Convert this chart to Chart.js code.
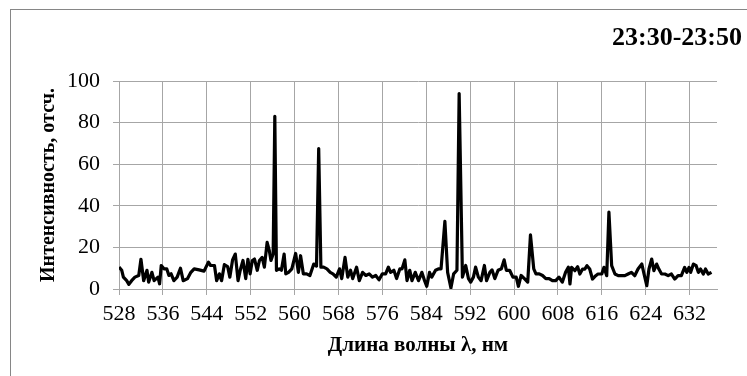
<!DOCTYPE html>
<html>
<head>
<meta charset="utf-8">
<script src="https://cdn.jsdelivr.net/npm/chart.js@4"></script>
<style>
  html, body { margin: 0; padding: 0; background: #fff; }
  #wrap { width: 747px; height: 376px; }
</style>
</head>
<body>
<div id="wrap"><canvas id="chart" width="747" height="376"></canvas></div>
<script>
const TITLE = "23:30-23:50";

const wavelength = [
  528.0, 528.5, 528.8, 529.4, 529.8, 530.3, 530.9, 531.6, 532.0, 532.5,
  533.1, 533.4, 534.0, 534.4, 535.1, 535.4, 535.7, 536.2, 536.7, 537.1,
  537.5, 538.0, 538.6, 539.2, 539.7, 540.5, 541.1, 541.7, 542.6, 543.5,
  544.3, 544.7, 545.4, 545.8, 546.3, 546.7, 547.2, 547.8, 548.2, 548.7,
  549.2, 549.7, 550.1, 550.6, 551.1, 551.5, 551.9, 552.3, 552.7, 553.2,
  553.6, 554.1, 554.5, 555.0, 555.4, 555.7, 556.1, 556.4, 556.7, 557.2,
  557.6, 558.1, 558.4, 558.9, 559.5, 560.2, 560.7, 561.1, 561.6, 562.2,
  562.8, 563.5, 564.0, 564.4, 564.8, 565.3, 565.9, 566.5, 567.0, 567.6,
  568.2, 568.6, 569.2, 569.7, 570.2, 570.6, 571.3, 571.8, 572.4, 573.0,
  573.6, 574.2, 574.8, 575.4, 576.0, 576.6, 577.1, 577.5, 578.1, 578.6,
  579.2, 579.6, 580.1, 580.5, 581.0, 581.4, 582.0, 582.6, 583.2, 583.7,
  584.1, 584.6, 585.0, 585.7, 586.3, 586.7, 587.4, 587.9, 588.5, 589.0,
  589.6, 590.0, 590.6, 591.2, 591.7, 592.1, 592.6, 593.0, 593.5, 594.0,
  594.6, 595.0, 595.6, 596.0, 596.5, 597.1, 597.7, 598.2, 598.6, 599.2,
  599.8, 600.4, 600.8, 601.3, 601.9, 602.5, 603.0, 603.6, 604.0, 604.6,
  605.2, 605.8, 606.4, 607.0, 607.6, 608.2, 608.8, 609.4, 609.9, 610.2,
  610.5, 611.1, 611.6, 612.0, 612.5, 612.9, 613.3, 613.8, 614.3, 614.9,
  615.3, 616.0, 616.4, 616.9, 617.3, 617.8, 618.4, 619.0, 619.6, 620.2,
  620.8, 621.4, 622.0, 622.6, 623.3, 623.7, 624.2, 624.6, 625.1, 625.5,
  626.0, 626.4, 626.9, 627.5, 628.1, 628.7, 629.3, 629.9, 630.5, 631.1,
  631.5, 631.9, 632.2, 632.7, 633.2, 633.6, 634.0, 634.5, 634.9, 635.4,
  636.0
];

const intensity = [
  10.5, 9, 5.7, 4, 2.2, 4, 5.7, 6.5, 14.3, 4,
  9, 3.3, 8, 4, 5.7, 2.5, 11.3, 9.7, 9.7, 6.5,
  7.3, 4, 5.7, 10, 4, 5, 8, 9.7, 9.2, 8.6,
  12.9, 11.3, 11.3, 4, 7.3, 4, 11.7, 10.8, 5.7, 14,
  16.8, 4, 9, 13.7, 5, 14.3, 7.3, 13.7, 14.4, 9,
  13.7, 15.2, 10.5, 22.4, 18.4, 13.7, 16.8, 83, 9, 9.7,
  9, 16.8, 7.3, 8, 9.7, 17.1, 8, 16, 7.3, 7.3,
  6.5, 12, 11, 67.5, 10.5, 10.5, 9.7, 8, 7.3, 5.7,
  9.7, 5, 15.2, 5.7, 9, 5, 10.5, 4, 8, 6.5,
  7.3, 5.7, 6.5, 4.4, 7.3, 7.3, 10.5, 8, 9, 5,
  9.7, 9.7, 14, 4, 9, 4, 8, 4, 8, 4,
  1.3, 8, 5.7, 9, 9.7, 9.7, 32.5, 8, 0.5, 7.3,
  9, 94, 5.7, 11.3, 5, 3.3, 5.7, 10.5, 5.7, 4,
  11.3, 4, 8, 9.2, 5, 9, 9.7, 14, 9, 9,
  5.7, 5.7, 1.3, 6.5, 5, 3.3, 26, 9.7, 7.3, 7.3,
  6.5, 5, 5, 4, 4, 5.7, 3.3, 8, 10.5, 2.4,
  10.4, 8.8, 10.7, 7.2, 9.6, 9.6, 11.2, 9.6, 4.8, 6.4,
  7.2, 7.2, 10.4, 6.4, 37, 11.2, 7.2, 6.4, 6.4, 6.4,
  7.2, 8, 6.4, 9.6, 12, 7.2, 1.6, 9.6, 14.4, 8.8,
  12, 9.6, 7.2, 7.2, 6.4, 7.2, 4.8, 6.4, 6.4, 10.4,
  8, 10.4, 8, 12, 11.2, 8, 9.6, 7.2, 9.6, 7.2,
  8
];

const xTicks = [528, 536, 544, 552, 560, 568, 576, 584, 592, 600, 608, 616, 624, 632];
const yTicks = [0, 20, 40, 60, 80, 100];

const SERIF = '"Liberation Serif", "Times New Roman", serif';
const GRID = "#a6a6a6";

// frame around the whole chart and the time label at top right
const decor = {
  id: "decor",
  beforeDraw(chart) {
    const c = chart.ctx;
    c.save();
    c.fillStyle = "#fff";
    c.fillRect(0, 0, chart.width, chart.height);
    c.strokeStyle = "#868686";
    c.lineWidth = 1;
    c.strokeRect(10.5, 9.5, 800, 400);
    c.restore();
  },
  afterDraw(chart) {
    const c = chart.ctx;
    c.save();
    c.fillStyle = "#000";
    c.font = "bold 26px " + SERIF;
    c.textAlign = "right";
    c.textBaseline = "middle";
    c.fillText(TITLE, 742, 38);
    c.restore();
  }
};

const points = wavelength.map((w, i) => ({ x: w, y: intensity[i] }));

new Chart(document.getElementById("chart"), {
  type: "line",
  data: {
    datasets: [{
      data: points,
      borderColor: "#000",
      borderWidth: 3.2,
      borderJoinStyle: "round",
      pointRadius: 0,
      tension: 0,
      fill: false
    }]
  },
  options: {
    responsive: false,
    animation: false,
    events: [],
    layout: { padding: { left: 11, top: 81, right: 30, bottom: 9 } },
    plugins: { legend: { display: false }, tooltip: { enabled: false } },
    scales: {
      x: {
        type: "linear",
        min: 528,
        max: 637,
        afterBuildTicks: s => { s.ticks = xTicks.map(v => ({ value: v })); },
        afterFit: s => { s.height = 78; },
        grid: { color: GRID, tickLength: 6 },
        border: { color: GRID },
        ticks: {
          color: "#000",
          padding: 8,
          maxRotation: 0,
          autoSkip: false,
          font: { family: SERIF, size: 22, lineHeight: 1 }
        },
        title: {
          display: true,
          text: "Длина волны λ, нм",
          color: "#000",
          padding: { top: 0, bottom: 9 },
          font: { family: SERIF, size: 21, weight: "bold", lineHeight: 1.2 }
        }
      },
      y: {
        min: 0,
        max: 100,
        afterBuildTicks: s => { s.ticks = yTicks.map(v => ({ value: v })); },
        afterFit: s => { s.width = 108; },
        grid: { color: GRID, tickLength: 6 },
        border: { color: GRID },
        ticks: {
          color: "#000",
          padding: 13,
          font: { family: SERIF, size: 22 }
        },
        title: {
          display: true,
          text: "Интенсивность, отсч.",
          color: "#000",
          padding: { top: 26, bottom: 0 },
          font: { family: SERIF, size: 20, weight: "bold", lineHeight: 1.2 }
        }
      }
    }
  },
  plugins: [decor]
});
</script>
</body>
</html>
